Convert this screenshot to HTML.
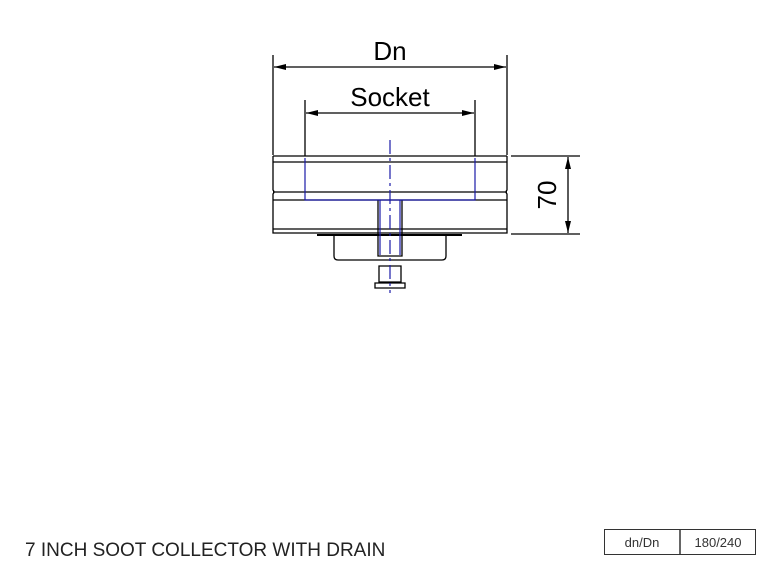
<!DOCTYPE html>
<html><head><style>body{margin:0;background:#fff}svg{display:block}</style></head><body>
<svg width="780" height="580" viewBox="0 0 780 580" xmlns="http://www.w3.org/2000/svg" font-family="Liberation Sans, sans-serif">
<defs>
<marker id="a" viewBox="0 0 12 6" refX="12" refY="3" markerWidth="12" markerHeight="6" orient="auto-start-reverse" markerUnits="userSpaceOnUse"><path d="M0,0L12,3L0,6z" fill="#000"/></marker>
</defs>
<g stroke="#000" fill="none" stroke-width="1.3">
<!-- Dn -->
<line x1="273" y1="55" x2="273" y2="155"/><line x1="507" y1="55" x2="507" y2="155"/>
<line x1="274" y1="67" x2="506" y2="67" marker-start="url(#a)" marker-end="url(#a)"/>
<!-- Socket -->
<line x1="305" y1="100" x2="305" y2="156"/><line x1="475" y1="100" x2="475" y2="156"/>
<line x1="306" y1="113" x2="474" y2="113" marker-start="url(#a)" marker-end="url(#a)"/>
<!-- 70 -->
<line x1="511" y1="156" x2="580" y2="156"/><line x1="511" y1="234" x2="580" y2="234"/>
<line x1="568" y1="157" x2="568" y2="233" marker-start="url(#a)" marker-end="url(#a)"/>
<!-- body -->
<line x1="273" y1="156" x2="507" y2="156"/>
<path d="M273,156V190Q275,192 273,194V233H507V194Q505,192 507,190V156"/>
<line x1="273" y1="162" x2="507" y2="162"/>
<line x1="273" y1="192" x2="507" y2="192"/>
<line x1="273" y1="200" x2="507" y2="200"/>
<line x1="273" y1="229" x2="507" y2="229"/>
<!-- cup -->
<line x1="317" y1="235" x2="462" y2="235" stroke-width="2"/>
<path d="M334,235V256Q334,260 338,260H442Q446,260 446,256V235"/>
<path d="M378,200V256H402V200"/>
<!-- drain -->
<path d="M379,266H401V282H379Z"/>
<path d="M375,283H405V288H375Z"/>
</g>
<g stroke="#1a1aa8" fill="none" stroke-width="1.2">
<path d="M305,158V200H475V158"/>
<line x1="390" y1="140" x2="390" y2="293" stroke-dasharray="14,4,3,4"/>
<line x1="380" y1="200" x2="380" y2="255"/><line x1="400" y1="200" x2="400" y2="255"/>
</g>
<text x="390" y="60" font-size="26" text-anchor="middle">Dn</text>
<text x="390" y="106" font-size="26" text-anchor="middle">Socket</text>
<text transform="translate(556,195) rotate(-90)" font-size="26" text-anchor="middle">70</text>
<text x="25" y="556" font-size="19" fill="#222">7 INCH SOOT COLLECTOR WITH DRAIN</text>
<rect x="604.5" y="529.5" width="151" height="25" fill="none" stroke="#333"/>
<line x1="680" y1="529" x2="680" y2="555" stroke="#333" stroke-width="1.5"/>
<text x="642" y="547" font-size="13" text-anchor="middle" fill="#333">dn/Dn</text>
<text x="718" y="547" font-size="13" text-anchor="middle" fill="#333">180/240</text>
</svg>
</body></html>
